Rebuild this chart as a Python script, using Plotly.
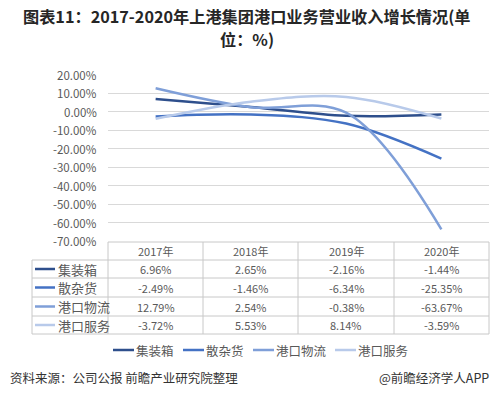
import plotly.graph_objects as go

categories = ["2017年", "2018年", "2019年", "2020年"]
series_names = ["集装箱", "散杂货", "港口物流", "港口服务"]
container = [6.96, 2.65, -2.16, -1.44]
bulk = [-2.49, -1.46, -6.34, -25.35]
logistics = [12.79, 2.54, -0.38, -63.67]
services = [-3.72, 5.53, 8.14, -3.59]
series_values = [container, bulk, logistics, services]
colors = ["#2E4F8C", "#4472C4", "#7F9FD8", "#B8CAEA"]
y_ticks = [20, 10, 0, -10, -20, -30, -40, -50, -60, -70]

W, H = 496, 398
PL, PR, PT, PB = 108, 489, 75, 241

def py(p):  # pixel y -> paper
    return (PB - p) / (PB - PT)

def px(p):  # pixel x -> paper
    return (p - PL) / (PR - PL)

fig = go.Figure()
xs = list(range(len(categories)))
for name, vals, c in zip(series_names, series_values, colors):
    fig.add_trace(go.Scatter(
        x=xs, y=vals, name=name, mode="lines",
        line=dict(color=c, width=2.5, shape="spline", smoothing=1.0),
    ))

CJK = "Noto Sans CJK SC"
grey = "#595959"
line_c = "#C8C8C8"
shapes = []
annotations = []

# table geometry (pixels)
t_top, t_head, t_bottom = 242, 260, 334
row_edges = [260, 278, 297, 316, 334]
col_edges = [108, 203, 298, 394, 489]
t_left = 32

shapes.append(dict(type="line", xref="paper", yref="paper", x0=px(PL), x1=px(PR),
                   y0=py(t_top), y1=py(t_top), line=dict(color=line_c, width=1)))
for r in row_edges:
    shapes.append(dict(type="line", xref="paper", yref="paper", x0=px(t_left), x1=px(PR),
                       y0=py(r), y1=py(r), line=dict(color=line_c, width=1)))
shapes.append(dict(type="line", xref="paper", yref="paper", x0=px(t_left), x1=px(t_left),
                   y0=py(t_head), y1=py(t_bottom), line=dict(color=line_c, width=1)))
for cx in col_edges:
    shapes.append(dict(type="line", xref="paper", yref="paper", x0=px(cx), x1=px(cx),
                       y0=py(t_top), y1=py(t_bottom), line=dict(color=line_c, width=1)))

for i, cat in enumerate(categories):
    annotations.append(dict(x=i, xref="x", y=py((t_top + t_head) / 2), yref="paper",
                            text=cat, showarrow=False, font=dict(family=CJK, size=11, color=grey),
                            xanchor="center", yanchor="middle"))
for r, (name, vals, c) in enumerate(zip(series_names, series_values, colors)):
    yc = (row_edges[r] + row_edges[r + 1]) / 2
    shapes.append(dict(type="line", xref="paper", yref="paper", x0=px(35), x1=px(55),
                       y0=py(yc), y1=py(yc), line=dict(color=c, width=2.5)))
    annotations.append(dict(x=px(56), xref="paper", y=py(yc), yref="paper", text=name,
                            showarrow=False, font=dict(family=CJK, size=13, color=grey),
                            xanchor="left", yanchor="middle"))
    for i, v in enumerate(vals):
        annotations.append(dict(x=i, xref="x", y=py(yc), yref="paper", text=f"{v:.2f}%",
                                showarrow=False, font=dict(family=CJK, size=11, color=grey),
                                xanchor="center", yanchor="middle"))

for t in y_ticks:
    annotations.append(dict(x=px(99), xref="paper", y=t, yref="y", text=f"{t:.2f}%",
                            showarrow=False, font=dict(family=CJK, size=11.5, color=grey),
                            xanchor="right", yanchor="middle"))

# custom legend
leg_x = [113, 183, 253, 335]
leg_y = 350
for lx, name, c in zip(leg_x, series_names, colors):
    shapes.append(dict(type="line", xref="paper", yref="paper", x0=px(lx), x1=px(lx + 21),
                       y0=py(leg_y), y1=py(leg_y), line=dict(color=c, width=2.5)))
    annotations.append(dict(x=px(lx + 21), xref="paper", y=py(leg_y), yref="paper", text=name,
                            showarrow=False, font=dict(family=CJK, size=12.5, color=grey),
                            xanchor="left", yanchor="middle"))

# title (two lines)
annotations.append(dict(x=px(247), xref="paper", y=py(16), yref="paper",
                        text="<b>图表11：2017-2020年上港集团港口业务营业收入增长情况(单</b>",
                        showarrow=False, font=dict(family=CJK, size=16.2, color="#262626"),
                        xanchor="center", yanchor="middle"))
annotations.append(dict(x=px(247), xref="paper", y=py(39), yref="paper",
                        text="<b>位：%)</b>",
                        showarrow=False, font=dict(family=CJK, size=16.2, color="#262626"),
                        xanchor="center", yanchor="middle"))
# footer
annotations.append(dict(x=px(8), xref="paper", y=py(377), yref="paper",
                        text="资料来源：公司公报 前瞻产业研究院整理",
                        showarrow=False, font=dict(family=CJK, size=12.5, color="#333333"),
                        xanchor="left", yanchor="middle"))
annotations.append(dict(x=px(491), xref="paper", y=py(377), yref="paper",
                        text="@前瞻经济学人APP",
                        showarrow=False, font=dict(family=CJK, size=12.5, color="#333333"),
                        xanchor="right", yanchor="middle"))

fig.update_layout(
    width=W, height=H,
    margin=dict(l=PL, r=W - PR, t=PT, b=H - PB, pad=0),
    paper_bgcolor="white", plot_bgcolor="white",
    showlegend=False,
    xaxis=dict(range=[-0.5, 3.5], showticklabels=False, showgrid=False, zeroline=False,
               fixedrange=True),
    yaxis=dict(range=[-70, 20], tickvals=y_ticks, showticklabels=False, showgrid=True,
               gridcolor="#D9D9D9", gridwidth=1, zeroline=False, fixedrange=True),
    shapes=shapes, annotations=annotations,
)

fig.write_html("out.html", config={"displayModeBar": False},
               post_script="document.body.style.margin='0';document.body.style.overflow='hidden';")
